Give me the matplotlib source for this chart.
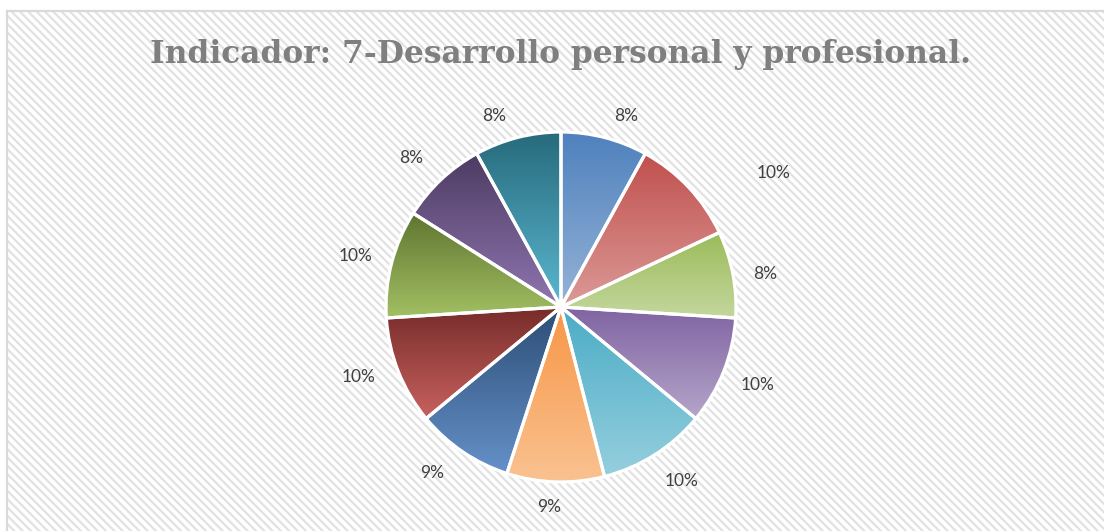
import numpy as np
import matplotlib.pyplot as plt
from matplotlib.patches import Rectangle
from matplotlib.colors import to_rgb

# data
values = [8, 10, 8, 10, 10, 9, 9, 10, 10, 8, 8]
title = "Indicador: 7-Desarrollo personal y profesional."

# per-slice gradient (top colour, bottom colour)
top_colors = ["#4f81bd", "#c0504d", "#9bbb59", "#8064a2", "#4bacc6", "#f79646",
              "#2c4d75", "#772c2a", "#5f7530", "#4d3b62", "#276a7c"]
bottom_colors = ["#95b3d7", "#dc9a98", "#c4d79e", "#b5a5ca", "#95cfde", "#fac291",
                 "#6591c9", "#c8625f", "#a3c064", "#8f76b0", "#5bb8d0"]
# label nudges in pixels (right, down) from the 1.2*R position, like Excel's best fit
label_nudge = [(13, 12), (59, 10), (-2, 6), (1, 1), (8, -3), (-5, -10),
               (-11, -8), (-7, -7), (-2, 1), (-6, 4), (-15, 12)]

W, H = 1104, 531
fig = plt.figure(figsize=(W / 100, H / 100), dpi=100)
fig.patch.set_facecolor("white")

# hatched chart area + border
plt.rcParams["hatch.linewidth"] = 1.6
bg = Rectangle((7 / W, 0), 1.2, (H - 11) / H, transform=fig.transFigure,
               facecolor="white", edgecolor="#e2e2e2", hatch="\\\\\\\\",
               linewidth=0, zorder=-2)
fig.patches.append(bg)
border = Rectangle((7 / W, -0.1), 1.2, (H - 11) / H + 0.1, transform=fig.transFigure,
                   facecolor="none", edgecolor="#d9d9d9", linewidth=1.6, zorder=-1)
fig.patches.append(border)

ax = fig.add_axes([0, 0, 1, 1])
ax.set_zorder(2)
ax.patch.set_visible(False)

cx, cy, R = 561, H - 307, 175
wedges, _ = ax.pie(values, startangle=90, counterclock=False, center=(cx, cy),
                   radius=R, frame=True,
                   wedgeprops=dict(edgecolor="white", linewidth=2.3))

for i, w in enumerate(wedges):
    ext = w.get_path().get_extents()
    c_top = np.array(to_rgb(top_colors[i]))
    c_bot = np.array(to_rgb(bottom_colors[i]))
    t = np.linspace(0, 1, 256)[:, None, None]
    grad = c_bot + (c_top - c_bot) * t
    im = ax.imshow(grad, extent=(ext.x0, ext.x1, ext.y0, ext.y1), origin="lower",
                   aspect="auto", interpolation="bilinear", zorder=1)
    im.set_clip_path(w)
    w.set_facecolor("none")
    w.set_zorder(2)

    ang = np.deg2rad((w.theta1 + w.theta2) / 2)
    d = R * 1.2
    nx, ny = label_nudge[i]
    ax.text(cx + d * np.cos(ang) + nx, cy + d * np.sin(ang) - ny, f"{values[i]}%",
            ha="center", va="center", fontsize=12.5, color="#404040",
            family="Lato")

ax.set_xlim(0, W)
ax.set_ylim(0, H)
ax.set_xticks([])
ax.set_yticks([])
for s in ax.spines.values():
    s.set_visible(False)

fig.text(561 / W, 1 - 54 / H, title, ha="center", va="center", fontsize=22.5,
         fontweight="bold", family="DejaVu Serif", color="#7f7f7f")

fig.savefig("out.png", dpi=100)
